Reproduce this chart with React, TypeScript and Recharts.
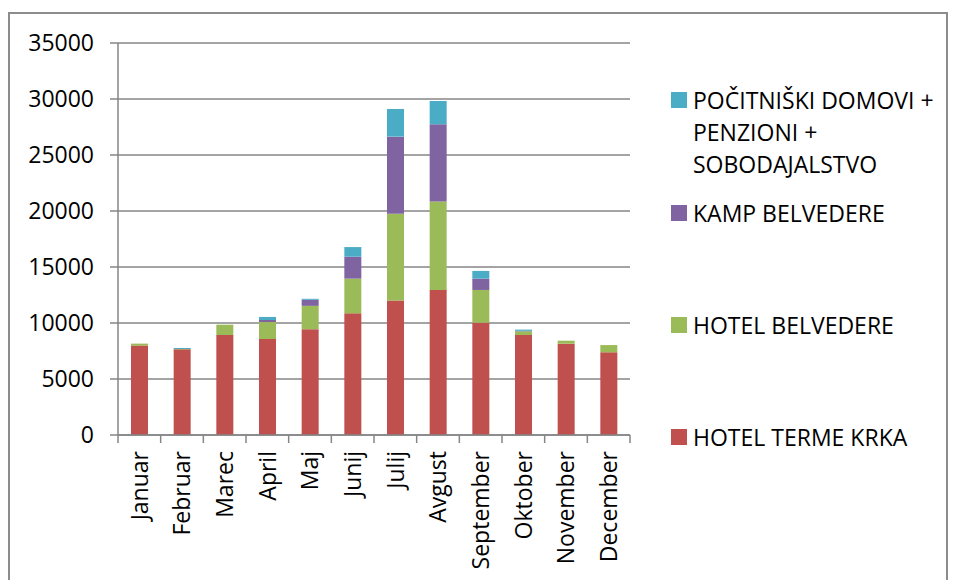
import React from "react";
import { BarChart, Bar, XAxis, YAxis, CartesianGrid } from "recharts";

const months = [
  "Januar", "Februar", "Marec", "April", "Maj", "Junij",
  "Julij", "Avgust", "September", "Oktober", "November", "December",
];
const hotelTermeKrka = [7980, 7650, 8930, 8570, 9450, 10860, 12000, 12950, 10030, 8930, 8150, 7380];
const hotelBelvedere = [180, 30, 920, 1520, 2080, 3100, 7760, 7890, 2920, 330, 270, 650];
const kampBelvedere = [0, 0, 0, 180, 540, 1960, 6880, 6900, 1010, 40, 0, 0];
const pocitniski = [0, 90, 0, 270, 90, 860, 2470, 2080, 690, 110, 0, 0];
const yTicks = [0, 5000, 10000, 15000, 20000, 25000, 30000, 35000];

const series = [
  { key: "krka", name: "HOTEL TERME KRKA", color: "#C0504D", values: hotelTermeKrka },
  { key: "belvedere", name: "HOTEL BELVEDERE", color: "#9BBB59", values: hotelBelvedere },
  { key: "kamp", name: "KAMP BELVEDERE", color: "#8064A2", values: kampBelvedere },
  { key: "domovi", name: "POČITNIŠKI DOMOVI + PENZIONI + SOBODAJALSTVO", color: "#4BACC6", values: pocitniski },
];

const data = months.map((m, i) => {
  const row: Record<string, string | number> = { month: m };
  series.forEach((s) => (row[s.key] = s.values[i]));
  return row;
});

const FONT = "'Open Sans', sans-serif";
const FS = 23;
const AXIS = "#868686";
const PLOT_W = 512;
const BAND = PLOT_W / months.length;

// legend lines as they wrap in the original
const legendLines = [
  ["POČITNIŠKI DOMOVI +", "PENZIONI +", "SOBODAJALSTVO"],
  ["KAMP BELVEDERE"],
  ["HOTEL BELVEDERE"],
  ["HOTEL TERME KRKA"],
];
const legendTops = [84, 197, 309, 421];

function MonthTick(props: any) {
  const { x, y, payload, index } = props;
  const left = x - BAND / 2;
  return (
    <g>
      <line x1={left} y1={y - 8} x2={left} y2={y} stroke={AXIS} strokeWidth={1.5} />
      {index === months.length - 1 && (
        <line x1={x + BAND / 2} y1={y - 8} x2={x + BAND / 2} y2={y} stroke={AXIS} strokeWidth={1.5} />
      )}
      <text
        x={x}
        y={y + 8}
        transform={`rotate(-90 ${x} ${y + 8})`}
        textAnchor="end"
        dy="0.36em"
        fontSize={FS}
        fontFamily={FONT}
        fill="#000"
      >
        {payload.value}
      </text>
    </g>
  );
}

export default function App() {
  return (
    <div
      style={{
        position: "relative",
        width: 940,
        height: 572,
        marginTop: 4,
        border: "2px solid #8c8c8c",
        boxSizing: "border-box",
        background: "#fff",
      }}
    >
      <BarChart
        width={936}
        height={568}
        data={data}
        margin={{ top: 29, right: 316, left: 0, bottom: 0 }}
        barSize={17}
      >
        <CartesianGrid vertical={false} stroke={AXIS} strokeWidth={1.5} />
        <XAxis
          dataKey="month"
          height={147}
          interval={0}
          axisLine={{ stroke: AXIS, strokeWidth: 1.5 }}
          tickLine={false}
          tick={<MonthTick />}
        />
        <YAxis
          width={108}
          domain={[0, 35000]}
          ticks={yTicks}
          interval={0}
          axisLine={{ stroke: AXIS, strokeWidth: 1.5 }}
          tickLine={{ stroke: AXIS, strokeWidth: 1.5 }}
          tickSize={8}
          tickMargin={16}
          tick={{ fontSize: FS, fontFamily: FONT, fill: "#000" }}
        />
        {series.map((s) => (
          <Bar key={s.key} dataKey={s.key} name={s.name} stackId="a" fill={s.color} isAnimationActive={false} />
        ))}
      </BarChart>
      {series
        .slice()
        .reverse()
        .map((s, i) => (
          <div
            key={s.key}
            style={{
              position: "absolute",
              left: 661,
              top: legendTops[i] - 14,
              display: "flex",
              alignItems: "flex-start",
              fontFamily: FONT,
              fontSize: FS,
              lineHeight: "32px",
              color: "#000",
              whiteSpace: "nowrap",
            }}
          >
            <div style={{ width: 16, height: 16, background: s.color, marginTop: 8, marginRight: 6 }} />
            <div>
              {legendLines[i].map((l) => (
                <div key={l}>{l}</div>
              ))}
            </div>
          </div>
        ))}
    </div>
  );
}
